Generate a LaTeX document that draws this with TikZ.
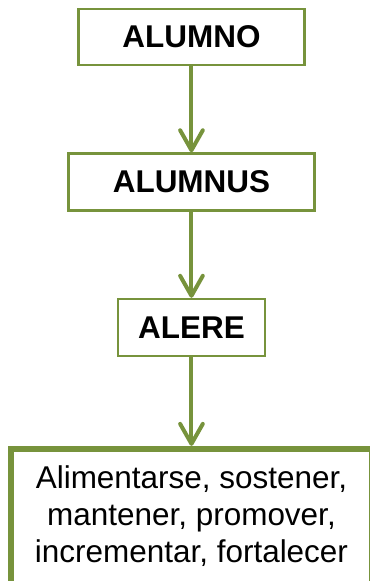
\documentclass[tikz,border=0pt]{standalone}
\usepackage{fontspec}
\setmainfont{Liberation Sans}
\usetikzlibrary{arrows.meta,positioning}
\definecolor{colive}{HTML}{77933C}
\tikzset{
  box/.style={draw=colive,line width=1.9pt,fill=white,align=center,inner sep=0pt,font=\fontsize{23.6}{27.75}\selectfont\bfseries},
  flow/.style={draw=colive,line width=3pt,-{Straight Barb[length=15pt,width=17pt,round]}}
}

\begin{document}
\begin{tikzpicture}[node distance=64.5pt]
    \useasboundingbox (0,0) rectangle (277.5pt,-435.75pt);
    \node[box,minimum width=169.5pt,minimum height=42pt] (alumno) at (143.6pt,-27.75pt) {ALUMNO};
    \node[box,minimum width=184.5pt,minimum height=42.75pt,below=of alumno] (alumnus) {ALUMNUS};
    \node[box,minimum width=110.25pt,minimum height=42.75pt,below=of alumnus] (alere) {ALERE};
    \node[box,font=\fontsize{23.6}{27.75}\selectfont,line width=4.5pt,minimum width=270.75pt,minimum height=101.25pt,below=66.4pt of alere] (sentido) {Alimentarse, sostener,\\ mantener, promover,\\ incrementar, fortalecer};
    \draw[flow] (alumno)--(alumnus);
    \draw[flow] (alumnus)--(alere);
    \draw[flow] (alere)--(sentido);
  \end{tikzpicture}
\end{document}
